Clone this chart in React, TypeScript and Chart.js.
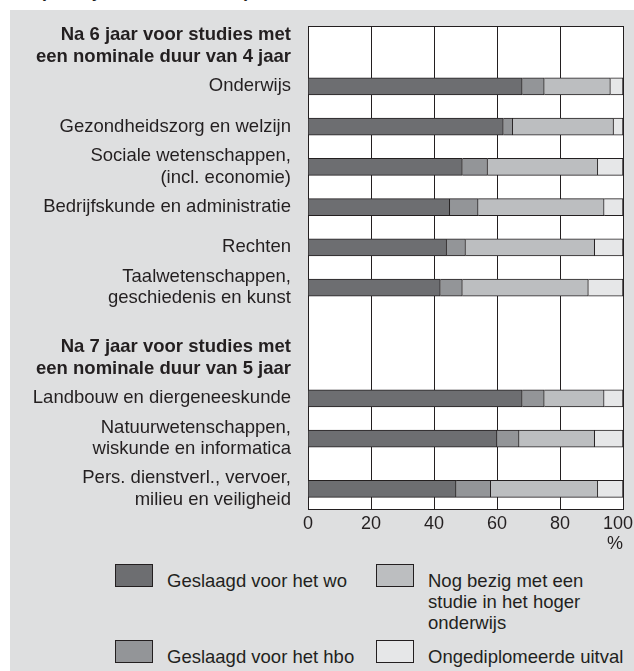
import React, { useEffect, useRef } from "react";
import { Chart, registerables } from "chart.js";

Chart.register(...registerables);

// ---- data ----
const rowLabels: (string | string[])[] = [
  ["Na 6 jaar voor studies met", "een nominale duur van 4 jaar"],
  "Onderwijs",
  "Gezondheidszorg en welzijn",
  ["Sociale wetenschappen,", "(incl. economie)"],
  "Bedrijfskunde en administratie",
  "Rechten",
  ["Taalwetenschappen,", "geschiedenis en kunst"],
  ["Na 7 jaar voor studies met", "een nominale duur van 5 jaar"],
  "Landbouw en diergeneeskunde",
  ["Natuurwetenschappen,", "wiskunde en informatica"],
  ["Pers. dienstverl., vervoer,", "milieu en veiligheid"],
];
const headerRows = [0, 7];

const woValues = [null, 68, 62, 49, 45, 44, 42, null, 68, 60, 47];
const hboValues = [null, 7, 3, 8, 9, 6, 7, null, 7, 7, 11];
const bezigValues = [null, 21, 32, 35, 40, 41, 40, null, 19, 24, 34];
const uitvalValues = [null, 4, 3, 8, 6, 9, 11, null, 6, 9, 8];

const seriesNames = [
  "Geslaagd voor het wo",
  "Geslaagd voor het hbo",
  "Nog bezig met een studie in het hoger onderwijs",
  "Ongediplomeerde uitval",
];
const legendLines = [
  ["Geslaagd voor het wo"],
  ["Geslaagd voor het hbo"],
  ["Nog bezig met een", "studie in het hoger", "onderwijs"],
  ["Ongediplomeerde uitval"],
];

const xMin = 0;
const xMax = 100;
const xStep = 20;
const xUnit = "%";
const clippedTitle = "(in de jaren na instroom)";

// ---- layout (row spacing on a fine category grid, spacer rows are blank) ----
const gridRows = 49;
const rowSlot = [2, 6, 10, 14, 18, 22, 26, 33, 37, 41, 46];

function spread<T>(values: T[], blank: T): T[] {
  const out: T[] = new Array(gridRows).fill(blank);
  rowSlot.forEach((slot, i) => {
    out[slot] = values[i];
  });
  return out;
}

// ---- styles ----
const FONT = '"Liberation Sans", Arial, Helvetica, sans-serif';
const INK = "#231f20";
const BG = "#dedfe0";
const seriesColors = ["#6d6e71", "#939598", "#bcbec0", "#e6e7e8"];
const LABEL_SIZE = 18.5;

const plotFrame = {
  id: "plotFrame",
  beforeDraw(chart: any) {
    const { ctx, chartArea: a } = chart;
    ctx.save();
    ctx.fillStyle = "#ffffff";
    ctx.fillRect(a.left, a.top, a.right - a.left, a.bottom - a.top);
    ctx.restore();
  },
  afterDraw(chart: any) {
    const { ctx, chartArea: a } = chart;
    ctx.save();
    ctx.strokeStyle = INK;
    ctx.lineWidth = 1;
    ctx.beginPath();
    ctx.moveTo(Math.round(a.left), Math.round(a.top) + 0.5);
    ctx.lineTo(Math.round(a.right), Math.round(a.top) + 0.5);
    ctx.stroke();
    ctx.restore();
  },
};

export default function App() {
  const canvasRef = useRef<HTMLCanvasElement | null>(null);

  useEffect(() => {
    if (!canvasRef.current) return;
    const seriesValues = [woValues, hboValues, bezigValues, uitvalValues];
    const labels = spread<string | string[]>(rowLabels, "");
    const headerSlots = headerRows.map((r) => rowSlot[r]);
    const chart = new Chart(canvasRef.current, {
      type: "bar",
      data: {
        labels: labels as any,
        datasets: seriesNames.map((name, i) => ({
          label: name,
          data: spread<number | null>(seriesValues[i], null) as any,
          backgroundColor: seriesColors[i],
          borderColor: INK,
          borderWidth: 1,
          barThickness: 17,
        })),
      },
      options: {
        indexAxis: "y",
        responsive: false,
        animation: false,
        devicePixelRatio: 1,
        layout: { padding: { left: 0, right: 27, top: 22, bottom: 0 } },
        plugins: {
          legend: { display: false },
          tooltip: { enabled: false },
        },
        scales: {
          x: {
            stacked: true,
            min: xMin,
            max: xMax,
            position: "bottom",
            afterFit: (s: any) => {
              s.height = 46;
            },
            grid: { color: INK, lineWidth: 1, drawTicks: false },
            border: { display: true, color: INK, width: 1 },
            ticks: {
              stepSize: xStep,
              padding: 4,
              color: INK,
              maxRotation: 0,
              autoSkip: false,
              font: { family: FONT, size: 18, lineHeight: 1.2 },
              callback: (v: any) =>
                Number(v) === xMax ? String(v) + "\u00a0\u00a0" : String(v),
            },
            title: {
              display: true,
              text: xUnit,
              align: "end",
              color: INK,
              padding: 0,
              font: { family: FONT, size: 18, lineHeight: 1.2 },
            },
          },
          y: {
            stacked: true,
            offset: false,
            afterFit: (s: any) => {
              s.width = 298;
            },
            grid: {
              display: true,
              color: "transparent",
              drawTicks: true,
              tickLength: 17,
              tickColor: "transparent",
            },
            border: { display: true, color: INK, width: 1 },
            ticks: {
              padding: 0,
              color: INK,
              autoSkip: false,
              font: (ctx: any) => ({
                family: FONT,
                size: LABEL_SIZE,
                lineHeight: 1.16,
                weight: headerSlots.includes(ctx.index) ? "bold" : "normal",
              }),
            },
          },
        },
      },
      plugins: [plotFrame],
    });
    return () => chart.destroy();
  }, []);

  const legendPos = [
    { left: 105, top: 554 },
    { left: 105, top: 630 },
    { left: 366, top: 554 },
    { left: 366, top: 630 },
  ];

  return (
    <>
      <div
        style={{
          position: "absolute",
          left: 0,
          top: 0,
          width: 634,
          height: 10,
          overflow: "hidden",
        }}
      >
        <div
          style={{
            position: "absolute",
            left: 40,
            top: -19,
            font: `bold 18px ${FONT}`,
            lineHeight: "20px",
            color: INK,
            whiteSpace: "nowrap",
          }}
        >
          {clippedTitle}
        </div>
      </div>
      <div
        style={{
          position: "absolute",
          left: 10,
          top: 10,
          width: 624,
          height: 661,
          background: BG,
          overflow: "hidden",
          fontFamily: FONT,
        }}
      >
        <canvas
          ref={canvasRef}
          width={640}
          height={551}
          style={{ position: "absolute", left: 0, top: -6, width: 640, height: 551 }}
        />
        {seriesNames.map((name, i) => (
          <div key={name}>
            <div
              style={{
                position: "absolute",
                left: legendPos[i].left,
                top: legendPos[i].top,
                width: 38,
                height: 23,
                boxSizing: "border-box",
                border: `1px solid ${INK}`,
                background: seriesColors[i],
              }}
            />
            <div
              style={{
                position: "absolute",
                left: legendPos[i].left + 52,
                top: legendPos[i].top + 6,
                fontSize: LABEL_SIZE,
                lineHeight: "21px",
                color: INK,
                whiteSpace: "nowrap",
              }}
            >
              {legendLines[i].map((l, j) => (
                <div key={j}>{l}</div>
              ))}
            </div>
          </div>
        ))}
      </div>
    </>
  );
}
